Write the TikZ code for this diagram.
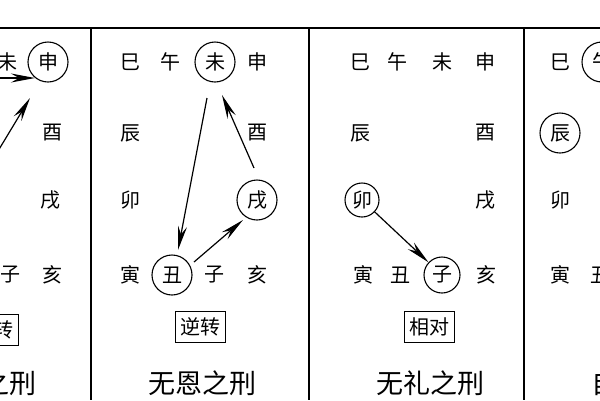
\documentclass[tikz,border=0pt]{standalone}
\usepackage{fontspec}
\newfontfamily\cjk{Noto Sans CJK SC}
\usetikzlibrary{arrows.meta}
\begin{document}
\begin{tikzpicture}[x=1pt,y=-1pt,
  ch/.style={font=\cjk\fontsize{20}{20}\selectfont,inner sep=0pt},
  cc/.style={ch,circle,draw,line width=1.1pt,minimum size=40pt},
  lab/.style={font=\cjk\fontsize{20}{20}\selectfont,draw,line width=1pt,inner xsep=5pt,inner ysep=6pt},
  ttl/.style={font=\cjk\fontsize{27}{27}\selectfont,inner sep=0pt},
  arr/.style={line width=1.2pt,-{Stealth[length=24pt,width=9pt,inset=8pt]}},
  frame/.style={line width=1.8pt}]
\useasboundingbox (0,0) rectangle (600,400);
\clip (0,0) rectangle (600,400);
\fill[white] (0,0) rectangle (600,400);
\draw[frame] (0,28) -- (600,28);
\draw[frame] (91,28) -- (91,400);
\draw[frame] (309,28) -- (309,400);
\draw[frame] (524,28) -- (524,400);
% panel 1
\node[ch] (a1) at (8,62) {未};
\node[cc] (a2) at (48,62) {申};
\node[ch] (a3) at (52,133) {酉};
\node[ch] (a4) at (50,200) {戌};
\node[ch] (a5) at (10,275) {子};
\node[ch] (a6) at (52,275) {亥};
\node[lab] (a7) at (-7,330) {逆转};
\node[ttl] (a8) at (-17,383) {无恩之刑};
\coordinate (p1) at (-10,78);
\coordinate (p2) at (-5,156);
\draw[arr] (p1) -- (35,78);
\draw[arr] (p2) -- (30,98);
% panel 2
\node[ch] (b1) at (130,62) {巳};
\node[ch] (b2) at (170,62) {午};
\node[cc] (b3) at (215,62) {未};
\node[ch] (b4) at (257,62) {申};
\node[ch] (b5) at (130,133) {辰};
\node[ch] (b6) at (257,133) {酉};
\node[ch] (b7) at (130,200) {卯};
\node[cc] (b8) at (257,200) {戌};
\node[ch] (b9) at (130,275) {寅};
\node[cc] (b10) at (172,275) {丑};
\node[ch] (b11) at (214,275) {子};
\node[ch] (b12) at (257,275) {亥};
\node[lab] (b13) at (200,327) {逆转};
\node[ttl] (b14) at (202,383) {无恩之刑};
\draw[arr] (207,98) -- (178,250);
\draw[arr] (254,168) -- (222,95);
\draw[arr] (194,262) -- (243,220);
% panel 3
\node[ch] (c1) at (360,62) {巳};
\node[ch] (c2) at (397,62) {午};
\node[ch] (c3) at (442,62) {未};
\node[ch] (c4) at (485,62) {申};
\node[ch] (c5) at (360,133) {辰};
\node[ch] (c6) at (485,133) {酉};
\node[cc,minimum size=34pt] (c7) at (362,200) {卯};
\node[ch] (c8) at (485,200) {戌};
\node[ch] (c9) at (363,275) {寅};
\node[ch] (c10) at (400,275) {丑};
\node[cc,minimum size=36pt] (c11) at (442,275) {子};
\node[ch] (c12) at (486,275) {亥};
\node[lab] (c13) at (429,327) {相对};
\node[ttl] (c14) at (430,383) {无礼之刑};
\draw[arr] (c7) -- (c11);
% panel 4
\node[ch] (d1) at (560,62) {巳};
\node[cc] (d2) at (602,62) {午};
\node[cc] (d3) at (560,133) {辰};
\node[ch] (d4) at (560,200) {卯};
\node[ch] (d5) at (560,275) {寅};
\node[ch] (d6) at (600,275) {丑};
\node[lab] (d7) at (625,327) {自刑};
\node[ttl] (d8) at (645,383) {自刑之刑};
\end{tikzpicture}
\end{document}
